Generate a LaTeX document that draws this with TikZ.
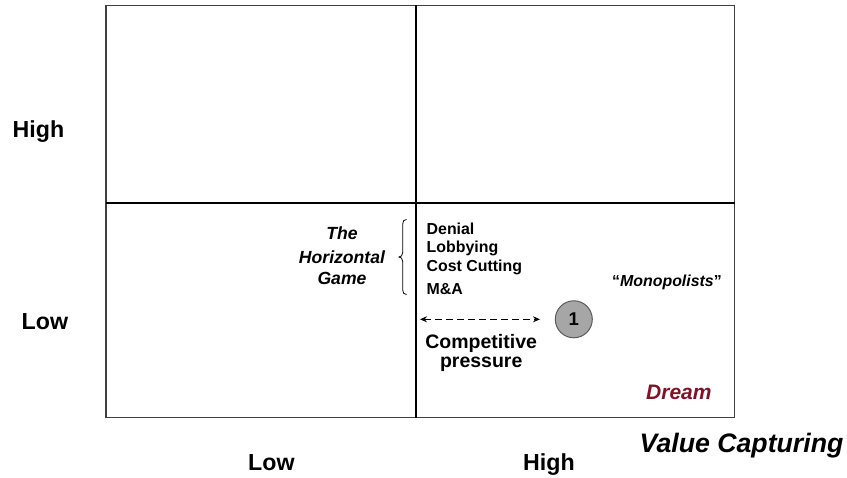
\documentclass[tikz,border=0pt]{standalone}
\usepackage{fontspec}
\setmainfont{Liberation Sans}
\usetikzlibrary{arrows.meta}
\definecolor{framegray}{RGB}{64,64,64}
\definecolor{dreamred}{RGB}{128,18,40}
\definecolor{ballfill}{RGB}{166,166,166}
\definecolor{ballline}{RGB}{90,90,90}
\newcommand{\fs}[1]{\fontsize{#1}{#1}\selectfont}
\begin{document}
\begin{tikzpicture}[x=1pt,y=-1pt,
  txt/.style={inner sep=0pt, font=\bfseries},
  axislbl/.style={txt, anchor=base west, font=\bfseries\fs{23.2}},
  itemlbl/.style={txt, anchor=base west, font=\bfseries\fs{15.9}},
  gamelbl/.style={txt, anchor=base, font=\bfseries\itshape\fs{17.6}},
  presslbl/.style={txt, anchor=base, font=\bfseries\fs{19.5}},
  ball/.style={circle, draw=ballline, line width=1pt, fill=ballfill, minimum size=37pt, inner sep=0pt, font=\bfseries\fs{18.5}},
  quadline/.style={line width=2pt, black},
  pushline/.style={line width=1.2pt, dash pattern=on 7pt off 4pt, {Stealth[length=7pt,width=6pt]}-{Stealth[length=7pt,width=6pt]}}
]
\useasboundingbox (0,0) rectangle (847,478);

% quadrant frame
\draw[line width=1.5pt, framegray] (106,5.5) rectangle (734.7,417.7);
\draw[quadline] (415.8,5.5) -- (415.8,417.7);
\draw[quadline] (106,203.5) -- (734.7,203.5);

% axis labels
\node[axislbl] (yhigh) at (12.5,137.7) {High};
\node[axislbl] (ylow) at (21.5,329.3) {Low};
\node[axislbl] (xlow) at (248,471) {Low};
\node[axislbl] (xhigh) at (523,471) {High};
\node[txt, anchor=base west, font=\bfseries\itshape\fs{26.7}] (xtitle) at (639.5,453) {Value Capturing};

% horizontal game
\node[gamelbl] (g1) at (342,240) {The};
\node[gamelbl] (g2) at (342,263.3) {Horizontal};
\node[gamelbl] (g3) at (342,285) {Game};
\draw[line width=0.8pt, black]
  (406.5,219.5) .. controls (404,219.5) and (402.7,221) .. (402.7,224)
  -- (402.7,252.5) .. controls (402.7,255.5) and (401,257) .. (399,257)
  .. controls (401,257) and (402.7,258.5) .. (402.7,261.5)
  -- (402.7,290) .. controls (402.7,293) and (404,294.5) .. (406.5,294.5);

% strategies
\node[itemlbl] (s1) at (426.5,234.7) {Denial};
\node[itemlbl] (s2) at (426.5,253) {Lobbying};
\node[itemlbl] (s3) at (426.5,271.5) {Cost Cutting};
\node[itemlbl] (s4) at (426.5,294.2) {M\&A};

% competitive pressure
\coordinate (pl) at (420,319.3);
\coordinate (pr) at (540,319.3);
\draw[pushline] (pl) -- (pr);
\node[ball] (b1) at (573.8,319.3) {1};
\node[presslbl] (p1) at (481.2,348.4) {Competitive};
\node[presslbl] (p2) at (481.2,367.5) {pressure};

% quadrant labels
\node[itemlbl] (mono) at (612,287) {``\textit{Monopolists}''};
\node[txt, anchor=base west, font=\bfseries\itshape\fs{21}, text=dreamred] (dream) at (646,400) {Dream};
\end{tikzpicture}
\end{document}
